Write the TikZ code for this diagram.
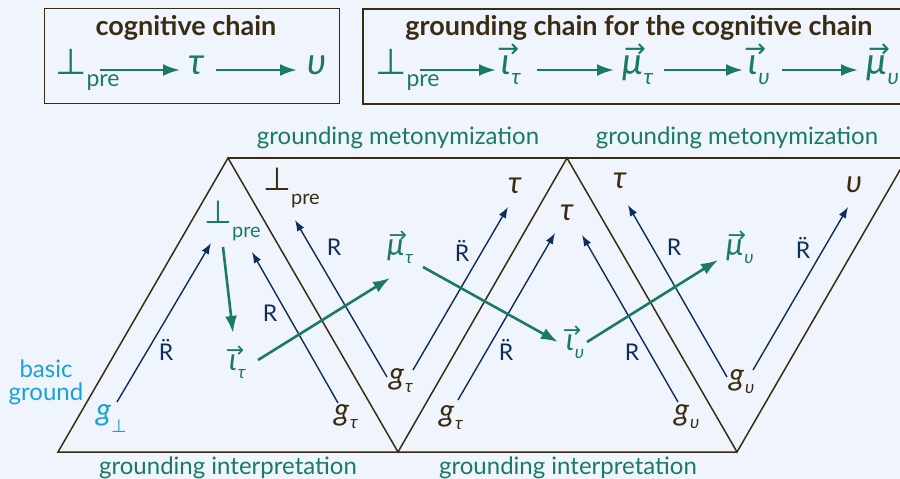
\documentclass[tikz,border=0pt]{standalone}
\usepackage{fontspec}
\setmainfont{Lato}
\newfontfamily\symf{DejaVu Sans}
\usetikzlibrary{arrows.meta,calc}
\definecolor{bgc}{HTML}{F0F4FC}
\definecolor{tealc}{HTML}{1A7A64}
\definecolor{navyc}{HTML}{0D2D5A}
\definecolor{brownc}{HTML}{3A2C12}
\definecolor{cyanc}{HTML}{18A2D8}
\newcommand\sbm[1]{\kern1pt\raisebox{-8pt}{\fontsize{18}{18}\selectfont\itshape #1}}
\newcommand\sbx[1]{\kern1pt\raisebox{-10pt}{\fontsize{22}{22}\selectfont\itshape #1}}
\newcommand\prem{\raisebox{-14pt}{\fontsize{20}{20}\selectfont\upshape pre}}
\newcommand\prex{\raisebox{-13pt}{\fontsize{23}{23}\selectfont\upshape pre}}
\newcommand\pp{{\symf\upshape ⊥}}
\newcommand\vvm[1]{\hbox{\ooalign{#1\cr\hidewidth\kern4pt\raisebox{13pt}{\fontsize{22}{22}\selectfont\symf\upshape →}\hidewidth\cr}}}
\newcommand\vvx[1]{\hbox{\ooalign{#1\cr\hidewidth\kern5pt\raisebox{17pt}{\fontsize{26}{26}\selectfont\symf\upshape →}\hidewidth\cr}}}
\newcommand\Rdd{R̈}
\tikzset{
 lbl/.style={inner sep=0pt, anchor=base west},
 mth/.style={lbl, font=\fontsize{31}{31}\selectfont\itshape},
 mthx/.style={lbl, font=\fontsize{37}{37}\selectfont\itshape},
 prp/.style={lbl, font=\fontsize{32}{32}\selectfont},
 prpx/.style={lbl, font=\fontsize{36}{36}\selectfont},
 rl/.style={inner sep=0pt, font=\fontsize{23}{23}\selectfont, text=navyc},
 capt/.style={font=\fontsize{24}{24}\selectfont, text=tealc, anchor=base, inner sep=0pt},
 ttl/.style={font=\fontsize{27}{27}\selectfont\bfseries, text=brownc, anchor=base, inner sep=0pt},
 boxfr/.style={draw=brownc, line width=1.6pt, inner sep=0pt, anchor=north west},
 narr/.style={draw=navyc, line width=1.4pt, -{Latex[length=11pt,width=8pt]}},
 tarr/.style={draw=tealc, line width=2.6pt, -{Latex[length=17pt,width=12pt]}},
 carr/.style={draw=tealc, line width=2.6pt, -{Latex[length=17pt,width=12pt]}},
 zz/.style={draw=brownc, line width=1.5pt}
}
\begin{document}
\begin{tikzpicture}[x=1pt,y=-1pt]
\useasboundingbox (0,0) rectangle (900,479);
\clip (0,0) rectangle (900,479);
\fill[bgc] (0,0) rectangle (900,479);
% boxes
\node[boxfr, minimum width=295pt, minimum height=95pt] (box1) at (43.5,7.5) {};
\node[boxfr, minimum width=560pt, minimum height=95pt] (box2) at (362,8) {};
\node[ttl] (title1) at (186,35) {cognitive chain};
\node[ttl] (title2) at (639,35) {grounding chain for the cognitive chain};
% chain 1
\node[prpx, text=tealc] (c1perp) at (55,74) {\pp\prex};
\node[mthx, text=tealc] (c1tau) at (188,74) {τ};
\node[mthx, text=tealc] (c1ups) at (307,74) {υ};
\draw[carr] ($(c1perp.base west)+(45,-4)$) -- ($(c1tau.base west)+(-8,-4)$);
\draw[carr] ($(c1tau.base west)+(28,-4)$) -- ($(c1ups.base west)+(-10,-4)$);
% chain 2
\node[prpx, text=tealc] (c2perp) at (375,74) {\pp\prex};
\node[mthx, text=tealc] (c2iota) at (501,74) {\vvx{ι}\sbx{τ}};
\node[mthx, text=tealc] (c2mu) at (622,74) {\vvx{μ}\sbx{τ}};
\node[mthx, text=tealc] (c2iotau) at (748,74) {\vvx{ι}\sbx{υ}};
\node[mthx, text=tealc] (c2muu) at (866,74) {\vvx{μ}\sbx{υ}};
\draw[carr] ($(c2perp.base west)+(45,-4)$) -- ($(c2iota.base west)+(-5,-4)$);
\draw[carr] ($(c2iota.base west)+(36,-4)$) -- ($(c2mu.base west)+(-8,-4)$);
\draw[carr] ($(c2mu.base west)+(42,-4)$) -- ($(c2iotau.base west)+(-5,-4)$);
\draw[carr] ($(c2iotau.base west)+(34,-4)$) -- ($(c2muu.base west)+(-8,-4)$);
% triangles
\draw[zz] (907,158) -- (737,452) -- (567,158) -- (398,452) -- (228,158) -- (58,452) -- (737,452);
\draw[zz] (228,158) -- (910,158);
% captions
\node[capt] (gm1) at (398,144) {grounding metonymization};
\node[capt] (gm2) at (737,144) {grounding metonymization};
\node[capt] (gi1) at (228,474) {grounding interpretation};
\node[capt] (gi2) at (568,474) {grounding interpretation};
\node[capt, text=cyanc] (bg1) at (46,377) {basic};
\node[capt, text=cyanc] (bg2) at (46,400) {ground};
% labels
\node[mth, text=cyanc] (gperp) at (96,420) {g\raisebox{-12pt}{\fontsize{18}{18}\selectfont\pp}};
\node[prp, text=tealc] (perpA) at (204,223) {\pp\prem};
\node[prp, text=brownc] (perpB) at (263,190) {\pp\prem};
\node[mth, text=tealc] (iotaA) at (229,370) {\vvm{ι}\sbm{τ}};
\node[mth, text=tealc] (muA) at (387,255) {\vvm{μ}\sbm{τ}};
\node[mth, text=brownc] (gtauA) at (334,420) {g\sbm{τ}};
\node[mth, text=brownc] (gtauB) at (389,384) {g\sbm{τ}};
\node[mth, text=brownc] (tauA) at (508,193) {τ};
\node[mth, text=brownc] (gtauC) at (439,421) {g\sbm{τ}};
\node[mth, text=brownc] (tauB) at (560,220) {τ};
\node[mth, text=tealc] (iotaB) at (566,350) {\vvm{ι}\sbm{υ}};
\node[mth, text=brownc] (tauC) at (613,188) {τ};
\node[mth, text=brownc] (guA) at (674,420) {g\sbm{υ}};
\node[mth, text=tealc] (muB) at (726,255) {\vvm{μ}\sbm{υ}};
\node[mth, text=brownc] (guB) at (729,385) {g\sbm{υ}};
\node[mth, text=brownc] (upsA) at (846,192) {υ};
% R labels
\node[rl] (r1) at (166,350) {\Rdd};
\node[rl] (r2) at (270,313) {R};
\node[rl] (r3) at (334,247) {R};
\node[rl] (r4) at (462,251) {\Rdd};
\node[rl] (r5) at (506,350) {\Rdd};
\node[rl] (r6) at (632,352) {R};
\node[rl] (r7) at (674,247) {R};
\node[rl] (r8) at (803,248) {\Rdd};
% navy arrows
\draw[narr] ($(gperp.base west)+(21,-18)$) -- ($(perpA.base west)+(7,20)$);
\draw[narr] ($(gtauA.base west)+(4,-17)$) -- ($(perpA.base west)+(48,29)$);
\draw[narr] ($(gtauB.base west)+(-2,-7)$) -- ($(perpB.base west)+(32,30)$);
\draw[narr] ($(gtauB.base west)+(24,-14)$) -- ($(tauA.base west)+(0,14)$);
\draw[narr] ($(gtauC.base west)+(19,-21)$) -- ($(tauB.base west)+(-5,13)$);
\draw[narr] ($(guA.base west)+(4,-18)$) -- ($(tauB.base west)+(22,15)$);
\draw[narr] ($(guB.base west)+(-2,-8)$) -- ($(tauC.base west)+(15,17)$);
\draw[narr] ($(guB.base west)+(24,-15)$) -- ($(upsA.base west)+(2,15)$);
% teal arrows
\draw[tarr] ($(perpA.base west)+(19,24)$) -- ($(iotaA.base west)+(4,-37)$);
\draw[tarr] ($(iotaA.base west)+(29,-10)$) -- ($(muA.base west)+(3,23)$);
\draw[tarr] ($(muA.base west)+(36,12)$) -- ($(iotaB.base west)+(-8,-8)$);
\draw[tarr] ($(iotaB.base west)+(21,-8)$) -- ($(muB.base west)+(-8,5)$);
\end{tikzpicture}
\end{document}
